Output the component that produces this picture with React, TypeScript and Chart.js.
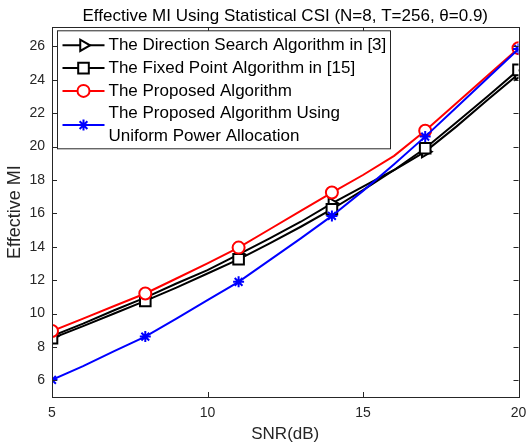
import React, { useEffect, useRef } from 'react';
import { Chart, registerables } from 'chart.js';

Chart.register(...registerables);

const snr = [5, 6, 7, 8, 9, 10, 11, 12, 13, 14, 15, 16, 17, 18, 19, 20];
const directionSearch = [8.65, 9.4, 10.2, 10.95, 11.8, 12.6, 13.55, 14.5, 15.5, 16.6, 17.6, 18.6, 19.7, 21.2, 22.8, 24.35];
const fixedPoint = [8.52, 9.25, 10.0, 10.76, 11.55, 12.4, 13.25, 14.2, 15.2, 16.25, 17.4, 18.6, 19.9, 21.45, 23.0, 24.6];
const proposed = [8.95, 9.7, 10.45, 11.2, 12.1, 13.0, 13.95, 15.05, 16.15, 17.25, 18.3, 19.45, 20.95, 22.6, 24.25, 25.9];
const uniformPower = [6.03, 6.85, 7.75, 8.62, 9.7, 10.8, 11.9, 13.2, 14.5, 15.85, 17.35, 18.95, 20.6, 22.35, 24.1, 25.85];
const markerSnr = [5, 8, 11, 14, 17, 20];
const xTicks = [5, 10, 15, 20];
const yTicks = [6, 8, 10, 12, 14, 16, 18, 20, 22, 24, 26];
const chartTitle = 'Effective MI Using Statistical CSI (N=8, T=256, θ=0.9)';
const legendLabels = [
  ['The Direction Search Algorithm in [3]'],
  ['The Fixed Point Algorithm in [15]'],
  ['The Proposed Algorithm'],
  ['The Proposed Algorithm Using', 'Uniform Power Allocation'],
];

const FONT = "'Liberation Sans', Arial, Helvetica, sans-serif";
const AXIS = '#262626';

function radii(r: number) {
  return snr.map((s) => (markerSnr.includes(s) ? r : 0));
}

function drawMarker(ctx: CanvasRenderingContext2D, style: string, x: number, y: number, r: number, color: string) {
  ctx.save();
  ctx.strokeStyle = color;
  ctx.fillStyle = '#fff';
  ctx.lineWidth = 2;
  ctx.beginPath();
  if (style === 'circle') {
    ctx.arc(x, y, r, 0, Math.PI * 2);
    ctx.fill();
    ctx.stroke();
  } else if (style === 'rect') {
    const h = r * Math.SQRT1_2;
    ctx.rect(x - h, y - h, 2 * h, 2 * h);
    ctx.fill();
    ctx.stroke();
  } else if (style === 'triangle') {
    for (let i = 0; i < 3; i++) {
      const a = (i * 2 * Math.PI) / 3;
      const px = x + Math.cos(a) * r;
      const py = y + Math.sin(a) * r;
      if (i === 0) ctx.moveTo(px, py);
      else ctx.lineTo(px, py);
    }
    ctx.closePath();
    ctx.fill();
    ctx.stroke();
  } else if (style === 'star') {
    for (let i = 0; i < 4; i++) {
      const a = (i * Math.PI) / 4;
      ctx.moveTo(x - Math.cos(a) * r, y - Math.sin(a) * r);
      ctx.lineTo(x + Math.cos(a) * r, y + Math.sin(a) * r);
    }
    ctx.stroke();
  }
  ctx.restore();
}

const boxPlugin = {
  id: 'matlabBox',
  afterDatasetsDraw(chart: any) {
    const { ctx, chartArea: a, scales } = chart;
    ctx.save();
    ctx.strokeStyle = AXIS;
    ctx.lineWidth = 1;
    ctx.strokeRect(Math.round(a.left) + 0.5, Math.round(a.top) + 0.5, Math.round(a.right - a.left), Math.round(a.bottom - a.top));
    const tl = 5;
    ctx.beginPath();
    xTicks.forEach((v) => {
      const px = Math.round(scales.x.getPixelForValue(v)) + 0.5;
      ctx.moveTo(px, a.bottom);
      ctx.lineTo(px, a.bottom - tl);
      ctx.moveTo(px, a.top);
      ctx.lineTo(px, a.top + tl);
    });
    yTicks.forEach((v) => {
      const py = Math.round(scales.y.getPixelForValue(v)) + 0.5;
      ctx.moveTo(a.left, py);
      ctx.lineTo(a.left + tl, py);
      ctx.moveTo(a.right, py);
      ctx.lineTo(a.right - tl, py);
    });
    ctx.stroke();
    ctx.restore();
  },
  afterDraw(chart: any) {
    const { ctx, chartArea: a } = chart;
    // title centred over the axes
    ctx.save();
    ctx.font = `17px ${FONT}`;
    ctx.fillStyle = '#000';
    ctx.textAlign = 'center';
    ctx.textBaseline = 'middle';
    ctx.fillText(chartTitle, (a.left + a.right) / 2, 16);
    ctx.restore();

    const left = a.left + 5.5;
    const top = a.top + 3.5;
    const w = 333;
    const h = 118;
    ctx.save();
    ctx.fillStyle = '#fff';
    ctx.fillRect(left, top, w, h);
    ctx.strokeStyle = '#262626';
    ctx.lineWidth = 1;
    ctx.strokeRect(left, top, w, h);
    ctx.font = `17px ${FONT}`;
    ctx.textBaseline = 'middle';
    ctx.fillStyle = '#000';
    const rowH = 22.8;
    let y = top + 14.5;
    const ds = chart.data.datasets;
    legendLabels.forEach((lines, i) => {
      const d = ds[i];
      const cy = y + ((lines.length - 1) * rowH) / 2;
      ctx.save();
      ctx.strokeStyle = d.borderColor;
      ctx.lineWidth = 2;
      ctx.beginPath();
      ctx.moveTo(left + 5, cy);
      ctx.lineTo(left + 47, cy);
      ctx.stroke();
      ctx.restore();
      drawMarker(ctx, d.legendStyle, left + 26, cy, d.legendR, d.borderColor);
      lines.forEach((t, j) => {
        ctx.fillStyle = '#000';
        ctx.fillText(t, left + 51, y + j * rowH);
      });
      y += lines.length * rowH;
    });
    ctx.restore();
  },
};

export default function App() {
  const ref = useRef<HTMLCanvasElement>(null);
  useEffect(() => {
    if (!ref.current) return;
    Chart.defaults.font.family = FONT;
    const mk = (label: string, data: number[], color: string, style: string, r: number, rot: number, order: number, legendStyle: string) => ({
      label,
      data: snr.map((x, i) => ({ x, y: data[i] })),
      borderColor: color,
      backgroundColor: '#fff',
      borderWidth: 2,
      pointStyle: style,
      pointRotation: rot,
      pointRadius: radii(r),
      pointBorderWidth: 2,
      pointBorderColor: color,
      pointBackgroundColor: style === 'star' ? color : '#fff',
      tension: 0,
      order,
      legendStyle,
      legendR: r,
    });
    const zeroPad = (s: any) => {
      s.paddingLeft = 0;
      s.paddingRight = 0;
      s.paddingTop = 0;
      s.paddingBottom = 0;
    };
    const chart = new Chart(ref.current, {
      type: 'line',
      data: {
        datasets: [
          mk(legendLabels[0].join(' '), directionSearch, '#000000', 'triangle', 6.5, 90, 4, 'triangle'),
          mk(legendLabels[1].join(' '), fixedPoint, '#000000', 'rect', 7.5, 0, 3, 'rect'),
          mk(legendLabels[2].join(' '), proposed, '#ff0000', 'circle', 6, 0, 2, 'circle'),
          mk(legendLabels[3].join(' '), uniformPower, '#0000ff', 'star', 5.5, 0, 1, 'star'),
        ] as any,
      },
      options: {
        responsive: false,
        animation: false,
        layout: { padding: { left: 0, right: 7.5, top: 27.3, bottom: 0 } },
        plugins: {
          legend: { display: false },
          tooltip: { enabled: false },
          title: { display: false },
        },
        scales: {
          x: {
            type: 'linear',
            min: 5,
            max: 20,
            afterBuildTicks: (s: any) => { s.ticks = xTicks.map((v) => ({ value: v })); },
            afterFit: (s: any) => { s.height = 48; zeroPad(s); },
            grid: { display: false, drawTicks: false },
            border: { display: false },
            ticks: { color: AXIS, font: { size: 14 }, padding: 8, maxRotation: 0 },
            title: { display: true, text: 'SNR(dB)', color: AXIS, font: { size: 17 }, padding: { top: 0, bottom: 0 } },
          },
          y: {
            type: 'linear',
            min: 5,
            max: 27.15,
            afterBuildTicks: (s: any) => { s.ticks = yTicks.map((v) => ({ value: v })); },
            afterFit: (s: any) => { s.width = 52; zeroPad(s); },
            grid: { display: false, drawTicks: false },
            border: { display: false },
            ticks: { color: AXIS, font: { size: 14 }, padding: 7 },
            title: { display: true, text: 'Effective MI', color: AXIS, font: { size: 18 }, padding: { top: 4, bottom: 0 } },
          },
        },
      } as any,
      plugins: [boxPlugin],
    });
    return () => chart.destroy();
  }, []);
  return (
    <div style={{ position: 'absolute', left: 0, top: 0, width: 528, height: 445, background: '#fff' }}>
      <canvas ref={ref} width={528} height={445} style={{ display: 'block' }} />
    </div>
  );
}
